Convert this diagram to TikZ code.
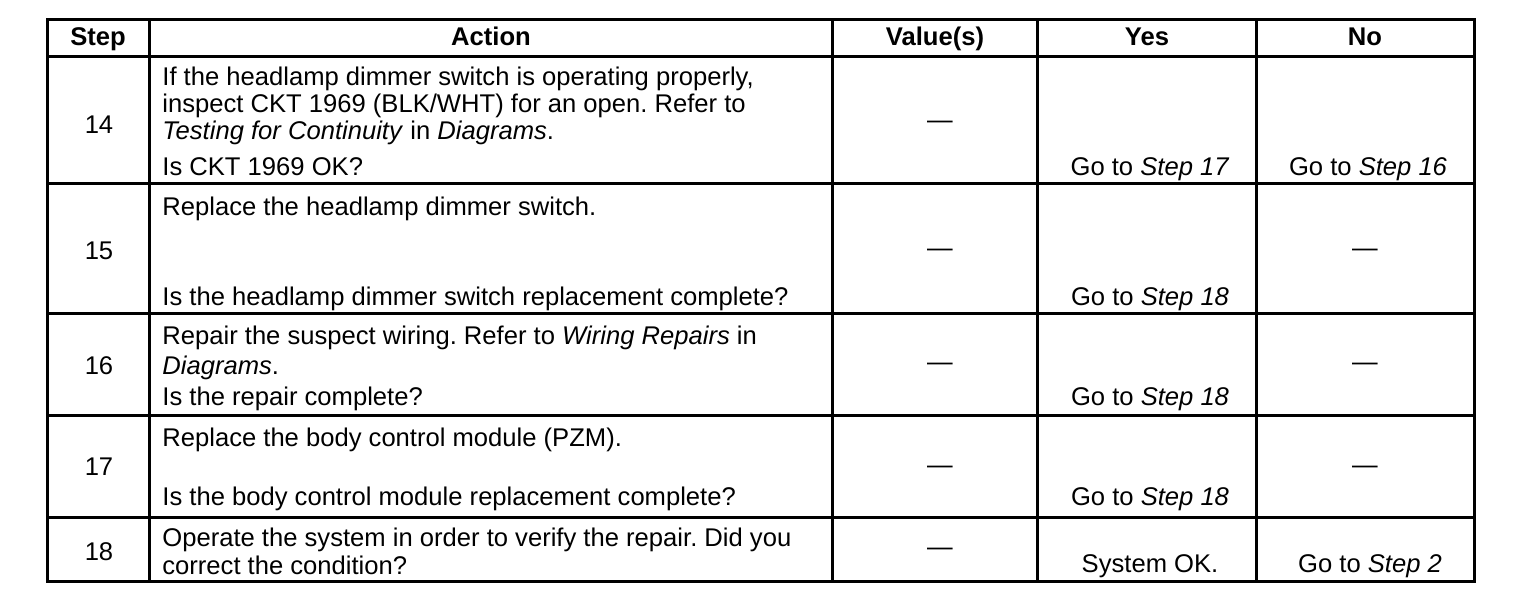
\documentclass[tikz,border=0pt]{standalone}
\usepackage{fontspec}
\setmainfont{Liberation Sans}
\usetikzlibrary{positioning}
\frenchspacing

\begin{document}
\begin{tikzpicture}[x=0.5pt, y=-0.5pt, font=\fontsize{12.8}{15}\selectfont,
  rule/.style={line width=1.5pt},
  txt/.style={anchor=base west, inner sep=0pt},
  mid/.style={anchor=base, inner sep=0pt},
  head/.style={anchor=base, inner sep=0pt, font=\fontsize{12.8}{15}\selectfont\bfseries}]
\useasboundingbox (0,0) rectangle (1520,602);

% grid of the table
\draw[rule] (47,19) rectangle (1474,581);
\foreach \x in {149,832,1037,1256}
  \draw[rule] (\x,19) -- (\x,581);
\foreach \y in {56,183,313,415,517}
  \draw[rule] (47,\y) -- (1474,\y);

% header
\node[head] (hstep) at (98,45) {Step};
\node[head] (haction) at (491,45) {Action};
\node[head] (hvalue) at (935,45) {Value(s)};
\node[head] (hyes) at (1147,45) {Yes};
\node[head] (hno) at (1365,45) {No};

% step 14
\node[mid] (s14) at (99,133) {14};
\node[txt] (a14a) at (162,85) {If the headlamp dimmer switch is operating properly,};
\node[txt] (a14b) at (162,112) {inspect CKT 1969 (BLK/WHT) for an open. Refer to};
\node[txt] (a14c) at (162,139) {\textit{Testing for Continuity} in \textit{Diagrams}.};
\node[txt] (a14d) at (162,175) {Is CKT 1969 OK?};
\node[mid] (v14) at (940,128) {—};
\node[mid] (y14) at (1150,175) {Go to \textit{Step 17}};
\node[mid] (n14) at (1368,175) {Go to \textit{Step 16}};

% step 15
\node[mid] (s15) at (99,259) {15};
\node[txt] (a15a) at (162,215) {Replace the headlamp dimmer switch.};
\node[txt] (a15b) at (162,305) {Is the headlamp dimmer switch replacement complete?};
\node[mid] (v15) at (940,256) {—};
\node[mid] (y15) at (1150,305) {Go to \textit{Step 18}};
\node[mid] (n15) at (1365,256) {—};

% step 16
\node[mid] (s16) at (99,374) {16};
\node[txt] (a16a) at (162,344) {Repair the suspect wiring. Refer to \textit{Wiring Repairs} in};
\node[txt] (a16b) at (162,374) {\textit{Diagrams}.};
\node[txt] (a16c) at (162,405) {Is the repair complete?};
\node[mid] (v16) at (940,370) {—};
\node[mid] (y16) at (1150,405) {Go to \textit{Step 18}};
\node[mid] (n16) at (1365,370) {—};

% step 17
\node[mid] (s17) at (99,475) {17};
\node[txt] (a17a) at (162,446) {Replace the body control module (PZM).};
\node[txt] (a17b) at (162,505) {Is the body control module replacement complete?};
\node[mid] (v17) at (940,473) {—};
\node[mid] (y17) at (1150,505) {Go to \textit{Step 18}};
\node[mid] (n17) at (1365,473) {—};

% step 18
\node[mid] (s18) at (99,560) {18};
\node[txt] (a18a) at (162,546) {Operate the system in order to verify the repair. Did you};
\node[txt] (a18b) at (162,574) {correct the condition?};
\node[mid] (v18) at (940,555) {—};
\node[mid] (y18) at (1150,572) {System OK.};
\node[mid] (n18) at (1370,572) {Go to \textit{Step 2}};
\end{tikzpicture}
\end{document}
